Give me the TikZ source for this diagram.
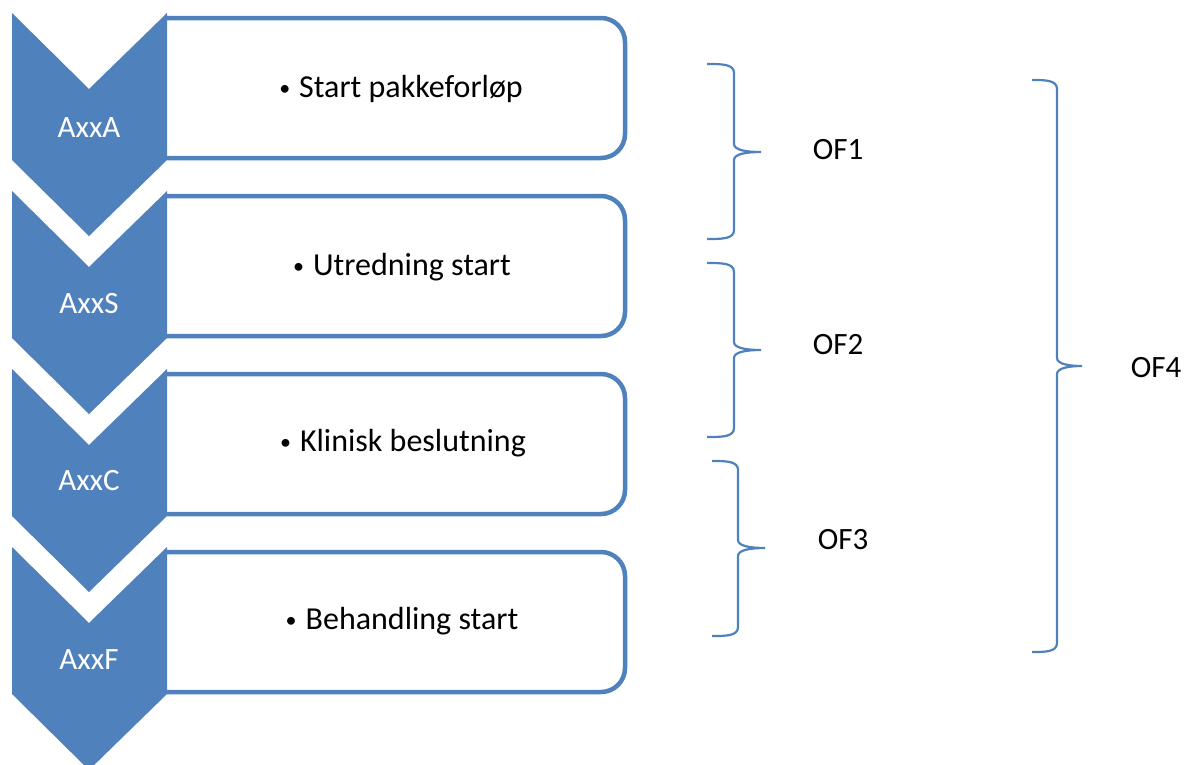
\documentclass[tikz,border=0pt]{standalone}
\usepackage{fontspec}
\setmainfont{Carlito}
\definecolor{ofblue}{HTML}{4F81BD}
\newcommand\ofbrace[6]{%
  \draw[bracestyle] (#1,#4) .. controls (#2-12,#4) and (#2,#4) .. (#2,#4+9)
    -- (#2,#5-8) .. controls (#2,#5-2) and (#2+12,#5) .. (#3,#5)
    .. controls (#2+12,#5) and (#2,#5+2) .. (#2,#5+8)
    -- (#2,#6-9) .. controls (#2,#6) and (#2-12,#6) .. (#1,#6);}
\newcommand\smbullet{{\fontsize{22}{22}\selectfont\raisebox{2pt}{\textbullet}}\hspace{9pt}}
\begin{document}
\begin{tikzpicture}[x=1pt,y=-1pt,
  chev/.style={fill=ofblue,draw=none},
  boxline/.style={draw=ofblue,line width=4.5pt,rounded corners=24pt},
  bracestyle/.style={draw=ofblue,line width=2.2pt},
  chevlabel/.style={text=white,font=\fontsize{31}{37}\selectfont,inner sep=0pt},
  boxtext/.style={text=black,font=\fontsize{32}{38}\selectfont,inner sep=0pt},
  oflabel/.style={text=black,font=\fontsize{31}{37}\selectfont,inner sep=0pt}]
\useasboundingbox (0,0) rectangle (1186,764);
\fill[white] (0,0) rectangle (1186,764);
% boxes
\foreach \t in {13,191,369,547}{
  \draw[boxline] (167,\t+5) -- (625,\t+5) -- (625,\t+145) -- (167,\t+145);
}
% chevrons
\foreach \t in {13,191,369,547}{
  \fill[chev] (12,\t) -- (89,\t+76) -- (167,\t) -- (167,\t+147) -- (89,\t+223) -- (12,\t+147) -- cycle;
}
\node[chevlabel] (la) at (89,128) {AxxA};
\node[chevlabel] (ls) at (89,304) {AxxS};
\node[chevlabel] (lc) at (89,481) {AxxC};
\node[chevlabel] (lf) at (89,660) {AxxF};
\node[boxtext] (t1) at (401,89) {\smbullet Start pakkeforløp};
\node[boxtext] (t2) at (402,267) {\smbullet Utredning start};
\node[boxtext] (t3) at (403,443) {\smbullet Klinisk beslutning};
\node[boxtext] (t4) at (402,621) {\smbullet Behandling start};
% braces
\ofbrace{707}{734}{761}{64}{152}{239}
\ofbrace{707}{734}{761}{263}{350}{437}
\ofbrace{712}{738}{765}{461}{548}{636}
\ofbrace{1032}{1057}{1082}{80}{366}{652}
\node[oflabel] (of1) at (838,150) {OF1};
\node[oflabel] (of2) at (838,345) {OF2};
\node[oflabel] (of3) at (843,540) {OF3};
\node[oflabel] (of4) at (1156,368) {OF4};
\end{tikzpicture}
\end{document}
